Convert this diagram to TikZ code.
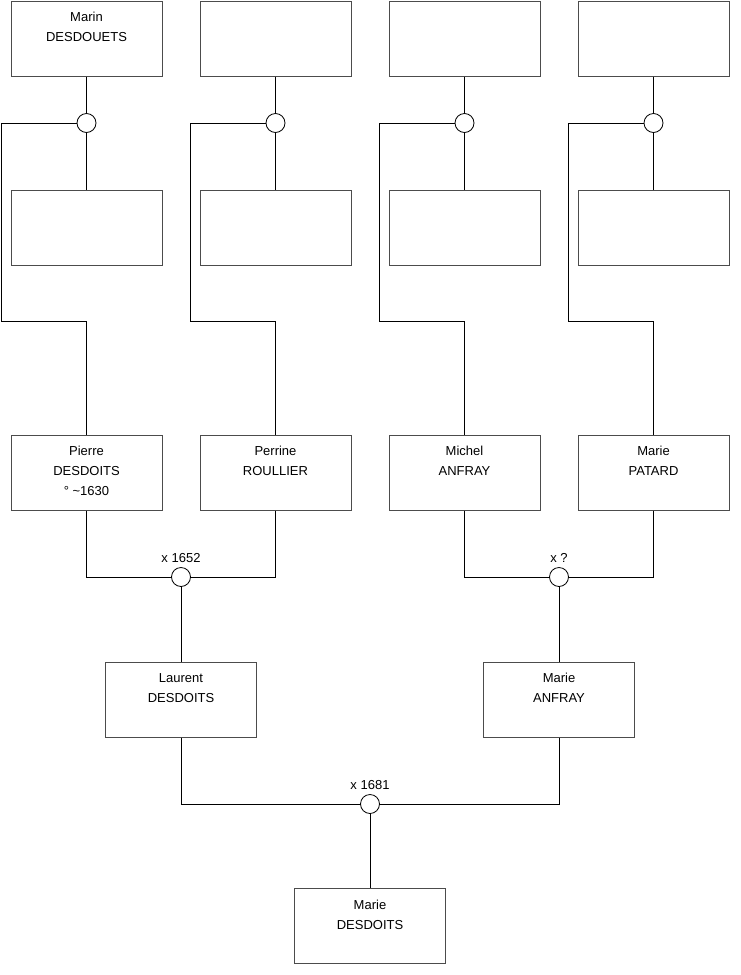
\documentclass[tikz,border=0pt]{standalone}
\usepackage{fontspec}
\setmainfont{Liberation Sans}
\begin{document}
\begin{tikzpicture}[x=1pt,y=-1pt,
  font=\fontsize{13}{20}\selectfont,
  person/.style={draw=black!70, line width=1pt, rectangle, minimum width=151pt, minimum height=75pt, inner sep=0pt, fill=white},
  union/.style={draw=black, line width=0.8pt, circle, minimum size=19pt, inner sep=0pt, fill=white},
  link/.style={draw=black, line width=0.8pt},
  txt/.style={anchor=north, align=center, yshift=-8.5pt}]
\useasboundingbox (0,0) rectangle (740,975);
\fill[white] (0,0) rectangle (740,975);
% row 1
\node[person, label={[txt]north:Marin\\DESDOUETS}] (t1) at (86.5,38.5) {};
\node[person] (t2) at (275.5,38.5) {};
\node[person] (t3) at (464.5,38.5) {};
\node[person] (t4) at (653.5,38.5) {};
% row 2
\node[person] (s1) at (86.5,227.5) {};
\node[person] (s2) at (275.5,227.5) {};
\node[person] (s3) at (464.5,227.5) {};
\node[person] (s4) at (653.5,227.5) {};
% row 3
\node[person, label={[txt]north:Pierre\\DESDOITS\\° \textasciitilde1630}] (p1) at (86.5,472.5) {};
\node[person, label={[txt]north:Perrine\\ROULLIER}] (p2) at (275.5,472.5) {};
\node[person, label={[txt]north:Michel\\ANFRAY}] (p3) at (464.5,472.5) {};
\node[person, label={[txt]north:Marie\\PATARD}] (p4) at (653.5,472.5) {};
% row 4
\node[person, label={[txt]north:Laurent\\DESDOITS}] (l1) at (181,699.5) {};
\node[person, label={[txt]north:Marie\\ANFRAY}] (l2) at (559,699.5) {};
% row 5
\node[person, label={[txt]north:Marie\\DESDOITS}] (b1) at (370,926) {};
% unions row 1
\foreach \i/\x in {1/86.5,2/275.5,3/464.5,4/653.5}{
  \node[union] (c\i) at (\x,123) {};
  \coordinate (k\i) at (\x-85,321);
  \draw[link] (t\i.south) -- (c\i.north);
  \draw[link] (c\i.south) -- (s\i.north);
  \draw[link] (c\i.west) -| (k\i) -| (p\i.north);
}
% unions row 3
\node[union] (m1) at (181,577) {};
\node[union] (m2) at (559,577) {};
\node (lm1) at (181,558) {x 1652};
\node (lm2) at (559,558) {x ?};
\draw[link] (p1.south) |- (m1.west);
\draw[link] (p2.south) |- (m1.east);
\draw[link] (m1.south) -- (l1.north);
\draw[link] (p3.south) |- (m2.west);
\draw[link] (p4.south) |- (m2.east);
\draw[link] (m2.south) -- (l2.north);
% union row 4
\node[union] (m3) at (370,804) {};
\node (lm3) at (370,785) {x 1681};
\draw[link] (l1.south) |- (m3.west);
\draw[link] (l2.south) |- (m3.east);
\draw[link] (m3.south) -- (b1.north);
\end{tikzpicture}
\end{document}
